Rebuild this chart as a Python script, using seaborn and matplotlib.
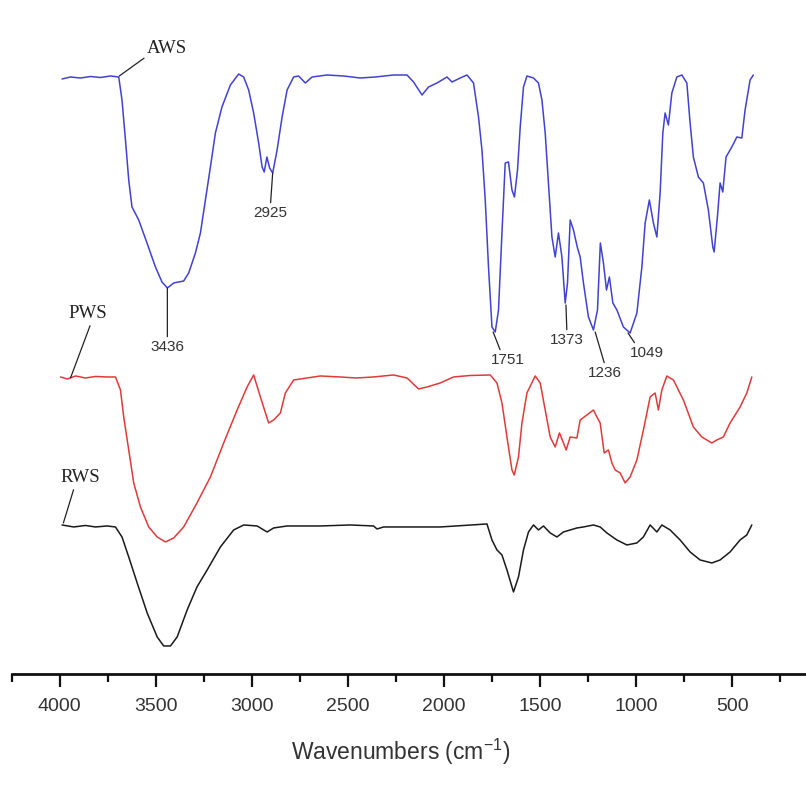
import matplotlib
matplotlib.use("Agg")
import matplotlib.pyplot as plt
from matplotlib.ticker import MultipleLocator
import seaborn as sns
import pandas as pd

# FTIR spectra (wavenumber in cm-1, transmittance in arbitrary stacked units)
aws_wn = [3988, 3944, 3892, 3840, 3788, 3736, 3693, 3676, 3658, 3641, 3624, 3589, 3546, 3502,
          3468, 3440, 3407, 3355, 3329, 3294, 3268, 3242, 3216, 3190, 3156, 3112, 3069, 3043,
          3017, 2991, 2965, 2947, 2936, 2922, 2908, 2892, 2869, 2843, 2817, 2783, 2757, 2722,
          2687, 2609, 2523, 2436, 2358, 2263, 2193, 2159, 2115, 2081, 2037, 1985, 1959, 1916,
          1881, 1847, 1821, 1803, 1786, 1769, 1751, 1734, 1717, 1699, 1682, 1665, 1647, 1634,
          1618, 1604, 1587, 1569, 1535, 1509, 1491, 1474, 1457, 1439, 1422, 1405, 1387, 1370,
          1358, 1344, 1327, 1306, 1292, 1275, 1249, 1223, 1202, 1187, 1171, 1155, 1140, 1122,
          1101, 1067, 1032, 997, 971, 954, 932, 911, 893, 876, 862, 850, 833, 815, 789, 763,
          737, 720, 703, 677, 651, 625, 602, 595, 578, 564, 550, 533, 503, 477, 451, 434, 408, 391]
aws_t = [59.5, 59.7, 59.6, 59.75, 59.65, 59.8, 59.7, 57.4, 53.4, 49.4, 46.7, 45.4, 43.1, 40.7,
         39.2, 38.6, 39.1, 39.3, 40.1, 42.1, 44.1, 47.4, 50.7, 54.1, 56.7, 58.9, 60.0, 59.7,
         58.4, 56.1, 53.1, 50.7, 50.2, 51.7, 50.6, 50.1, 52.4, 55.7, 58.4, 59.7, 59.8, 59.1,
         59.7, 59.9, 59.8, 59.6, 59.7, 59.9, 59.9, 59.2, 57.9, 58.7, 59.1, 59.7, 59.2, 59.6,
         59.9, 59.1, 55.7, 52.4, 47.4, 40.7, 34.7, 34.2, 36.4, 44.1, 51.1, 51.2, 48.4, 47.7,
         50.4, 54.7, 58.7, 59.8, 59.6, 59.1, 57.4, 54.1, 49.1, 43.7, 41.7, 44.1, 41.7, 37.1,
         39.1, 45.4, 44.4, 42.6, 41.7, 39.1, 35.7, 34.4, 36.4, 43.1, 41.1, 38.4, 39.7, 37.1,
         36.4, 34.7, 34.1, 36.1, 40.7, 45.1, 47.4, 45.1, 43.7, 48.1, 54.1, 56.1, 54.9, 58.1,
         59.7, 59.9, 59.1, 55.1, 51.7, 49.7, 49.1, 46.4, 42.7, 42.2, 45.7, 49.1, 48.2, 51.7,
         52.7, 53.7, 53.6, 56.4, 59.4, 59.9]

pws_wn = [3996, 3961, 3918, 3866, 3814, 3754, 3710, 3684, 3667, 3641, 3615, 3580, 3537, 3493,
          3450, 3407, 3355, 3286, 3216, 3147, 3077, 3025, 2991, 2956, 2913, 2887, 2852, 2826,
          2783, 2713, 2644, 2540, 2457, 2367, 2263, 2193, 2133, 2089, 2020, 1951, 1864, 1760,
          1725, 1699, 1673, 1647, 1635, 1613, 1595, 1569, 1526, 1500, 1474, 1448, 1422, 1400,
          1379, 1365, 1344, 1309, 1292, 1257, 1223, 1205, 1188, 1167, 1145, 1127, 1110, 1084,
          1058, 1032, 997, 963, 928, 902, 885, 867, 841, 807, 755, 703, 659, 633, 607, 581,
          547, 512, 460, 425, 399]
pws_t = [29.7, 29.5, 29.8, 29.6, 29.75, 29.7, 29.7, 28.4, 25.7, 22.4, 19.1, 16.7, 14.7, 13.7,
         13.2, 13.6, 14.7, 17.1, 19.7, 23.1, 26.4, 28.7, 29.9, 27.7, 25.1, 25.4, 26.1, 28.1,
         29.4, 29.6, 29.8, 29.7, 29.6, 29.7, 29.9, 29.6, 28.5, 28.7, 29.1, 29.7, 29.85, 29.9,
         29.1, 27.1, 23.7, 20.4, 19.9, 21.7, 25.1, 28.1, 29.8, 29.1, 26.4, 23.7, 22.7, 24.1,
         23.1, 22.4, 23.7, 23.6, 25.4, 25.9, 26.4, 25.7, 25.1, 22.1, 22.4, 21.1, 20.4, 20.1,
         19.1, 19.7, 21.4, 24.4, 27.7, 28.1, 26.4, 28.4, 29.8, 29.4, 27.4, 24.7, 23.7, 23.4,
         23.1, 23.4, 23.7, 25.1, 26.7, 28.1, 29.7]

rws_wn = [3988, 3927, 3866, 3814, 3754, 3710, 3676, 3641, 3597, 3545, 3493, 3459, 3424, 3389,
          3337, 3286, 3233, 3164, 3095, 3043, 2973, 2921, 2887, 2817, 2644, 2488, 2367, 2349,
          2315, 2020, 1777, 1751, 1725, 1699, 1673, 1639, 1613, 1587, 1561, 1535, 1509, 1483,
          1448, 1413, 1379, 1344, 1309, 1275, 1223, 1188, 1153, 1101, 1049, 997, 963, 928,
          893, 867, 824, 772, 720, 668, 607, 564, 512, 460, 425, 399]
rws_t = [14.9, 14.7, 14.85, 14.7, 14.8, 14.7, 13.7, 11.7, 9.1, 6.1, 3.7, 2.8, 2.8, 3.7,
         6.4, 8.7, 10.4, 12.7, 14.4, 14.9, 14.8, 14.2, 14.6, 14.8, 14.8, 14.9, 14.8, 14.5,
         14.7, 14.7, 15.0, 13.4, 12.4, 11.9, 10.4, 8.2, 9.7, 12.4, 14.2, 14.9, 14.4, 14.8,
         14.1, 13.7, 14.2, 14.4, 14.6, 14.7, 14.9, 14.7, 14.1, 13.4, 12.9, 13.1, 13.7, 14.9,
         14.2, 14.9, 14.4, 13.4, 12.2, 11.4, 11.1, 11.4, 12.2, 13.4, 13.9, 14.9]

sample_names = ["AWS", "PWS", "RWS"]
sample_colors = ["#4141d2", "#e03a3a", "#1a1a1a"]

# labelled peaks on the AWS spectrum: (label, wavenumber, transmittance)
peak_labels = ["3436", "2925", "1751", "1373", "1236", "1049"]
peak_wn = [3440, 2892, 1745, 1366, 1214, 1043]
peak_t = [38.6, 50.1, 34.2, 36.9, 34.2, 34.1]

frames = []
for name, wn, t in zip(sample_names, [aws_wn, pws_wn, rws_wn], [aws_t, pws_t, rws_t]):
    frames.append(pd.DataFrame({"wavenumber": wn, "T": t, "sample": name}))
df = pd.concat(frames, ignore_index=True)

sns.set_style("white")
plt.rcParams["font.family"] = ["Liberation Sans", "DejaVu Sans"]

fig = plt.figure(figsize=(8.06, 8.01), dpi=100)
ax = fig.add_axes([0.0145, 0.1586, 0.9855, 0.8414])

sns.lineplot(data=df, x="wavenumber", y="T", hue="sample", palette=sample_colors,
             hue_order=sample_names, estimator=None, sort=True, linewidth=1.1,
             legend=False, ax=ax)

ax.set_xlim(4250, 117)
ax.set_ylim(0, 67.4)

for s in ["top", "right", "left"]:
    ax.spines[s].set_visible(False)
ax.spines["bottom"].set_linewidth(2.0)
ax.spines["bottom"].set_color("#111111")
ax.set_yticks([])
ax.set_ylabel("")

ax.xaxis.set_major_locator(MultipleLocator(500))
ax.xaxis.set_minor_locator(MultipleLocator(250))
ax.set_xticks([4000, 3500, 3000, 2500, 2000, 1500, 1000, 500])
ax.tick_params(axis="x", which="major", direction="out", length=9.5, width=1.6, bottom=True,
               color="#111111", labelsize=14, labelcolor="#333333", pad=8)
ax.tick_params(axis="x", which="minor", direction="out", length=5.5, width=1.6,
               color="#111111", bottom=True)
ax.set_xlabel("Wavenumbers (cm$^{\\mathregular{-1}}$)", fontsize=16.5, color="#333333")
ax.xaxis.set_label_coords(0.489, -0.093)

# sample labels with leader lines
curve_label_pos = [(3440, 62.5), (3856, 36.0), (3892, 19.6)]
curve_label_tip = [(3690, 59.8), (3944, 29.6), (3981, 15.1)]
curve_label_rel = [(0.0, 0.1), (0.6, 0.0), (0.35, 0.0)]
for name, pos, tip, rel in zip(sample_names, curve_label_pos, curve_label_tip, curve_label_rel):
    ax.annotate(name, xy=tip, xytext=pos, ha="center", va="center", fontsize=13.5,
                family=["Liberation Serif", "DejaVu Serif"], color="#222222",
                arrowprops=dict(arrowstyle="-", color="#222222", lw=0.9,
                                shrinkA=0, shrinkB=0, relpos=rel))

# peak labels
peak_text_pos = [(3440, 32.7), (2904, 46.1), (1667, 31.4), (1361, 33.4), (1162, 30.1), (945, 32.1)]
peak_rel = [(0.5, 1.0), (0.5, 1.0), (0.3, 1.0), (0.5, 1.0), (0.5, 1.0), (0.2, 1.0)]
for lab, wn, t, pos, rel in zip(peak_labels, peak_wn, peak_t, peak_text_pos, peak_rel):
    ax.annotate(lab, xy=(wn, t), xytext=pos, ha="center", va="center", fontsize=11,
                color="#333333",
                arrowprops=dict(arrowstyle="-", color="#222222", lw=0.9,
                                shrinkA=0, shrinkB=0, relpos=rel))

fig.savefig("out.png", dpi=100)
